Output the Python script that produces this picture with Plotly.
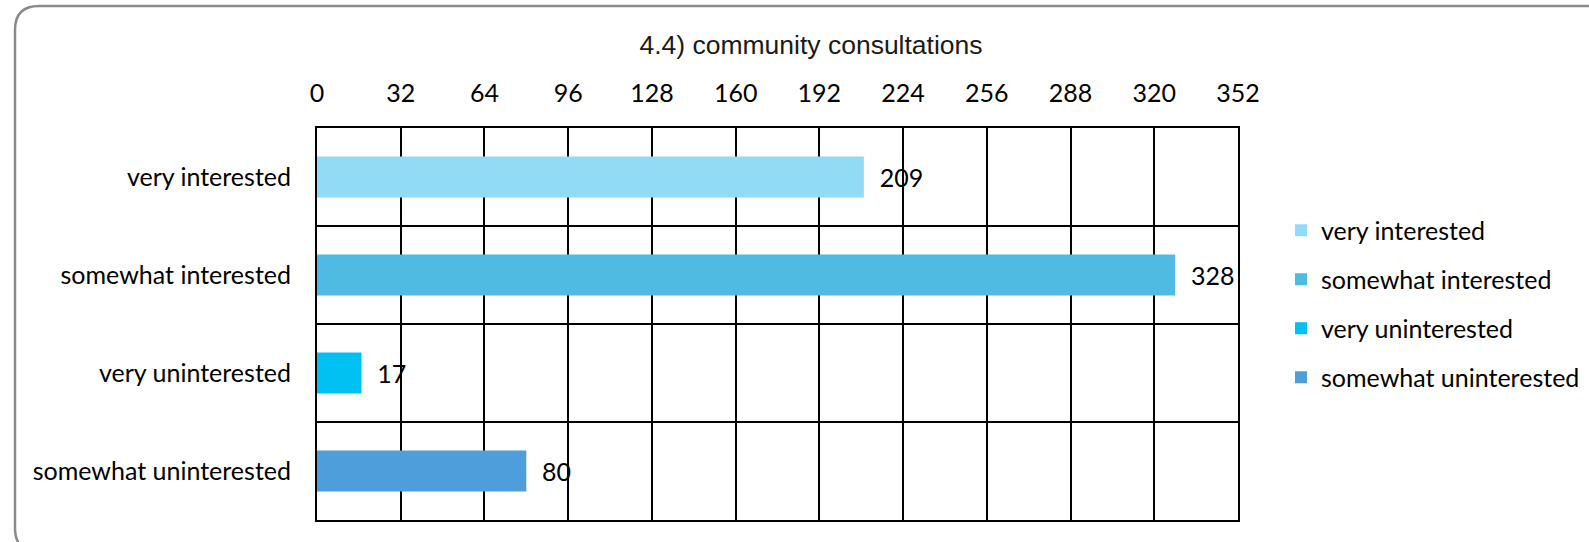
import plotly.graph_objects as go

categories = ["very interested", "somewhat interested", "very uninterested", "somewhat uninterested"]
values = [209, 328, 17, 80]
colors = ["#91DBF7", "#4FBBE3", "#00C1F1", "#4F9EDC"]
tick_vals = [0, 32, 64, 96, 128, 160, 192, 224, 256, 288, 320, 352]
title_text = "4.4) community consultations"

W, H = 1589, 542
L, R, T, B = 317, 1238, 128, 520

fig = go.Figure()
for cat, val, col in zip(categories, values, colors):
    fig.add_trace(go.Bar(
        x=[val], y=[cat], orientation="h", name=cat,
        legendgroup=cat,
        marker=dict(color=col, line=dict(width=0)),
        width=0.42,
        text=[val], texttemplate="  %{x}", textposition="outside",
        textfont=dict(family="Lato", size=25, color="black"),
        cliponaxis=False,
    ))

def px(x):
    return (x - L) / (R - L)

def py(y):
    return (B - y) / (B - T)

x0, y0, x1, y1, r = 15, 6, 1620, 552, 24
path = (
    f"M {px(x0)},{py(y0 + r)} "
    f"Q {px(x0)},{py(y0)} {px(x0 + r)},{py(y0)} "
    f"L {px(x1 - r)},{py(y0)} "
    f"Q {px(x1)},{py(y0)} {px(x1)},{py(y0 + r)} "
    f"L {px(x1)},{py(y1 - r)} "
    f"Q {px(x1)},{py(y1)} {px(x1 - r)},{py(y1)} "
    f"L {px(x0 + r)},{py(y1)} "
    f"Q {px(x0)},{py(y1)} {px(x0)},{py(y1 - r)} Z"
)

fig.update_layout(
    width=W, height=H,
    margin=dict(l=L, r=W - R, t=T, b=H - B, pad=0, autoexpand=False),
    paper_bgcolor="white", plot_bgcolor="white",
    barmode="overlay",
    showlegend=True,
    title=dict(text=title_text, x=811 / W, xanchor="center",
               y=1 - 45 / H, yanchor="middle", yref="container",
               font=dict(family="Liberation Sans, Arial", size=26.5, color="#1a1a1a")),
    legend=dict(x=(1281 - L) / (R - L), xanchor="left", y=py(304), yanchor="middle",
                font=dict(family="Lato", size=25, color="black"),
                tracegroupgap=13.5, bgcolor="rgba(0,0,0,0)", itemwidth=30),
    shapes=[dict(type="path", xref="paper", yref="paper", path=path,
                 line=dict(color="#8a8a8a", width=2.5), layer="below")],
    xaxis=dict(range=[0, 352], side="top", tickvals=tick_vals,
               tickfont=dict(family="Lato", size=25, color="black"),
               showgrid=True, gridcolor="black", gridwidth=1.5,
               showline=True, linecolor="black", linewidth=2, mirror=True,
               zeroline=False, ticks="", ticklabelstandoff=14, fixedrange=True),
    yaxis=dict(categoryorder="array", categoryarray=categories, autorange="reversed",
               tickson="boundaries", showgrid=True, gridcolor="black", gridwidth=2,
               showline=True, linecolor="black", linewidth=2, mirror=True,
               ticks="", tickfont=dict(family="Lato", size=25, color="black"),
               ticklabelstandoff=19, fixedrange=True),
)

fig.write_html("out.html",
               config={"displayModeBar": False},
               post_script="document.body.style.margin='0';document.body.style.overflow='hidden';")
